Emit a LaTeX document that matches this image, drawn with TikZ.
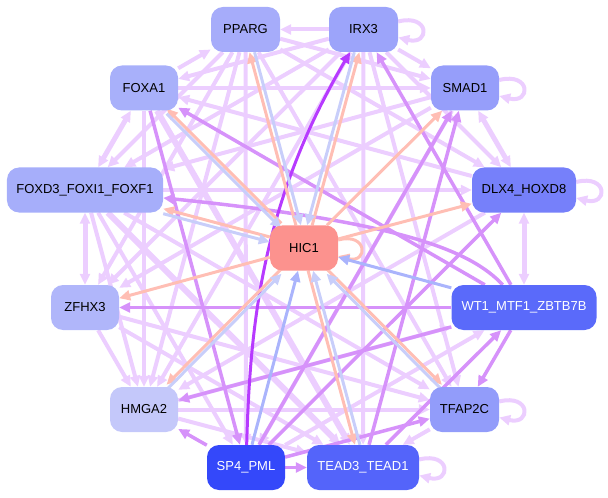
\documentclass[tikz,border=0pt]{standalone}
\usepackage{fontspec}
\setmainfont{Liberation Sans}
\usetikzlibrary{arrows.meta}
\pgfdeclarelayer{edges}
\pgfsetlayers{edges,main}
\definecolor{lavE}{RGB}{236,206,255}
\definecolor{medE}{RGB}{214,146,250}
\definecolor{strE}{RGB}{183,58,255}
\definecolor{salE}{RGB}{255,190,180}
\definecolor{bluE}{RGB}{200,206,250}
\definecolor{bluD}{RGB}{170,180,252}
\tikzset{
  gene/.style={rounded corners=12bp, minimum height=45bp, inner xsep=4bp, font=\fontsize{13bp}{15bp}\selectfont},
  headE/.style={-{Triangle[length=11bp,width=10bp]}},
  lav/.style={headE, draw=lavE, line width=4bp},
  lavw/.style={headE, draw=lavE, line width=6bp},
  lavb/.style={{Triangle[length=11bp,width=10bp]}-{Triangle[length=11bp,width=10bp]}, draw=lavE, line width=5bp},
  med/.style={headE, draw=medE, line width=3.5bp},
  strong/.style={headE, draw=strE, line width=3bp},
  sal/.style={headE, draw=salE, line width=3bp},
  blu/.style={headE, draw=bluE, line width=3bp},
}

\begin{document}
\begin{tikzpicture}[x=1bp,y=-1bp]
%%%%% START %%%%%
\useasboundingbox (0,0) rectangle (608,498);

\node[gene, fill={rgb,255:red,166;green,172;blue,250}, minimum width=69bp] (pparg) at (245.5,29.5) {PPARG};
\node[gene, fill={rgb,255:red,156;green,164;blue,250}, minimum width=69bp] (irx) at (363.5,29.5) {IRX3};
\node[gene, fill={rgb,255:red,168;green,176;blue,250}, minimum width=68bp] (foxa) at (144,88) {FOXA1};
\node[gene, fill={rgb,255:red,150;green,158;blue,250}, minimum width=68bp] (smad) at (465,88) {SMAD1};
\node[gene, fill={rgb,255:red,166;green,174;blue,250}, minimum width=156bp] (foxd) at (85,190) {FOXD3\_FOXI1\_FOXF1};
\node[gene, fill={rgb,255:red,118;green,128;blue,250}, minimum width=104bp] (dlx) at (524,190) {DLX4\_HOXD8};
\node[gene, fill={rgb,255:red,252;green,146;blue,142}, minimum width=68bp] (hic) at (304,248) {HIC1};
\node[gene, fill={rgb,255:red,176;green,182;blue,250}, minimum width=68bp] (zfhx) at (85,307.5) {ZFHX3};
\node[gene, fill={rgb,255:red,90;green,106;blue,250}, text=white, minimum width=145bp] (wt) at (524,307.5) {WT1\_MTF1\_ZBTB7B};
\node[gene, fill={rgb,255:red,196;green,200;blue,250}, minimum width=68bp] (hmga) at (144,409.5) {HMGA2};
\node[gene, fill={rgb,255:red,146;green,156;blue,250}, minimum width=69bp] (tfap) at (464.5,409.5) {TFAP2C};
\node[gene, fill={rgb,255:red,52;green,72;blue,250}, text=white, minimum width=78bp] (sp) at (246,467.5) {SP4\_PML};
\node[gene, fill={rgb,255:red,84;green,100;blue,250}, text=white, minimum width=112bp] (tead) at (363,467.5) {TEAD3\_TEAD1};

\begin{pgfonlayer}{edges}
% lavender web
\draw[lav] (irx) -- (pparg);
\draw[lav] (foxa) -- (pparg);
\draw[lav] (pparg) -- (smad);
\draw[lav] (pparg) -- (dlx);
\draw[lav] (pparg) -- (foxd);
\draw[lav] (pparg) -- (zfhx);
\draw[lav] (pparg) -- (hmga);
\draw[lav] (pparg) -- (sp);
\draw[lav] (pparg) -- (tfap);
\draw[lav] (irx) -- (smad);
\draw[lav] (irx) -- (foxa);
\draw[lav] (irx) -- (foxd);
\draw[lav] (irx) -- (zfhx);
\draw[lav] (irx) -- (hmga);
\draw[lav] (irx) -- (tead);
\draw[lav] (irx) -- (dlx);
\draw[lav] (irx) -- (tfap);
\draw[lav] (foxa) -- (smad);
\draw[lav] (foxa) -- (hmga);
\draw[lavw] (foxa) -- (tead);
\draw[lav] (smad) -- (foxd);
\draw[lav] (smad) -- (zfhx);
\draw[lav] (smad) -- (sp);
\draw[lav] (dlx) -- (foxa);
\draw[lav] (foxd) -- (dlx);
\draw[lav] (dlx) -- (hmga);
\draw[lavw] (foxd) -- (tead);
\draw[lav] (foxd) -- (tfap);
\draw[lav] (foxd) -- (sp);
\draw[lav] (foxd) -- (hmga);
\draw[lav] (zfhx) -- (hmga);
\draw[lav] (zfhx) -- (tfap);
\draw[lav] (zfhx) -- (tead);
\draw[lav] (hmga) -- (tfap);
\draw[lav] (hmga) -- (tead);
\draw[lav] (hmga) -- (wt);
\draw[lav] (tfap) -- (tead);
\draw[lav] (sp) -- (wt);
\draw[lavb] (foxa) -- (foxd);
\draw[lavb] (foxd) -- (zfhx);
\draw[lavb] (smad) -- (dlx);
\draw[lavb] (dlx) -- (wt);
% self loops
\draw[lav] ([yshift=8bp]irx.east) .. controls +(32,-8) and +(32,8) .. ([yshift=-8bp]irx.east);
\draw[lav] ([yshift=8bp]smad.east) .. controls +(32,-8) and +(32,8) .. ([yshift=-8bp]smad.east);
\draw[lav] ([yshift=8bp]dlx.east) .. controls +(32,-8) and +(32,8) .. ([yshift=-8bp]dlx.east);
\draw[lav] ([yshift=8bp]tfap.east) .. controls +(32,-8) and +(32,8) .. ([yshift=-8bp]tfap.east);
\draw[lav] ([yshift=8bp]tead.east) .. controls +(32,-8) and +(32,8) .. ([yshift=-8bp]tead.east);
% purple ones
\draw[med] (wt) -- (zfhx);
\draw[med] (wt) -- (foxa);
\draw[med] (wt) -- (irx);
\draw[med] (wt) -- (tfap);
\draw[med] (wt) -- (hmga);
\draw[med] (wt) .. controls (470,250) and (400,222) .. (foxd);
\draw[med] (sp) -- (hmga);
\draw[med] (sp) -- (tead);
\draw[med] (sp) -- (tfap);
\draw[med] (sp) -- (smad);
\draw[med] (tead) -- (smad);
\draw[med] (sp) -- (dlx);
\draw[med] (tead) -- (wt);
\draw[med] (foxa) -- (sp);
\draw[strong] (sp) .. controls (250,330) and (260,205) .. (irx);
% HIC1 out
\draw[sal, transform canvas={xshift=-2bp}] (hic) -- (pparg);
\draw[sal, transform canvas={xshift=2bp}] (hic) -- (irx);
\draw[sal, transform canvas={yshift=2bp}] (hic) -- (foxa);
\draw[sal, transform canvas={yshift=2bp}] (hic) -- (foxd);
\draw[sal] (hic) -- (smad);
\draw[sal] (hic) -- (dlx);
\draw[sal] (hic) -- (zfhx);
\draw[sal, transform canvas={yshift=2bp}] (hic) -- (hmga);
\draw[sal, transform canvas={yshift=2bp}] (hic) -- (tfap);
\draw[sal, transform canvas={xshift=-2bp}] (hic) -- (tead);
\draw[sal] ([yshift=8bp]hic.east) .. controls +(30,-8) and +(30,8) .. ([yshift=-8bp]hic.east);
% HIC1 in
\draw[blu, transform canvas={xshift=3bp}] (pparg) -- (hic);
\draw[blu, transform canvas={xshift=-3bp}] (irx) -- (hic);
\draw[blu, transform canvas={yshift=-3bp}] (foxa) -- (hic);
\draw[blu, transform canvas={yshift=-3bp}] (foxd) -- (hic);
\draw[blu, transform canvas={yshift=-3bp}] (hmga) -- (hic);
\draw[blu, transform canvas={yshift=-3bp}] (tfap) -- (hic);
\draw[blu, transform canvas={xshift=3bp}] (tead) -- (hic);
\draw[blu, draw=bluD] (wt) -- (hic);
\draw[blu, draw=bluD] (sp) -- (hic);
\end{pgfonlayer}
%%%%% END %%%%%
\end{tikzpicture}
\end{document}
